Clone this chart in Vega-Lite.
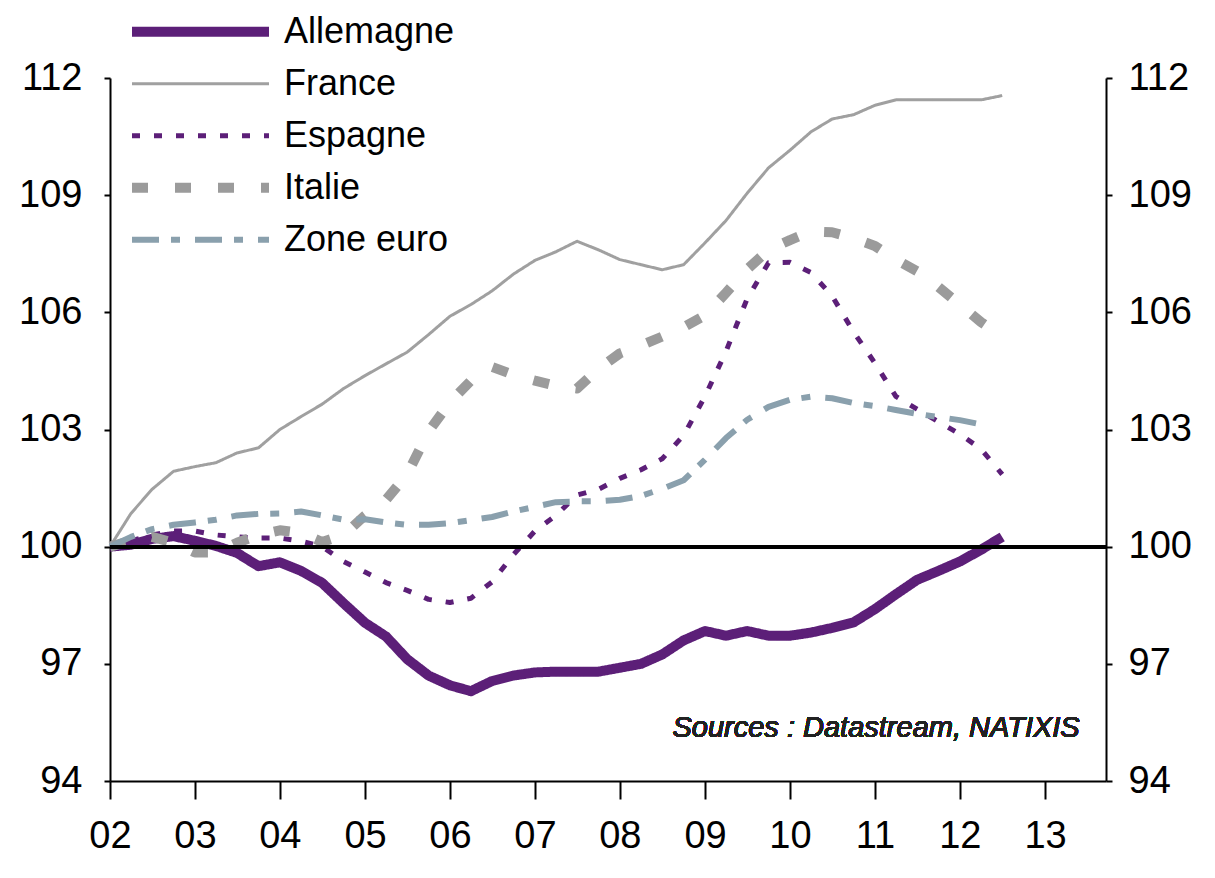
{
  "$schema": "https://vega.github.io/schema/vega-lite/v6.json",
  "width": 996,
  "height": 703,
  "autosize": {"type": "none"},
  "padding": {"left": 110, "top": 78, "right": 109, "bottom": 97},
  "background": "white",
  "config": {
    "view": {"stroke": null},
    "font": "Liberation Sans",
    "axis": {
      "grid": false,
      "domainColor": "#000",
      "domainWidth": 2,
      "tickColor": "#000",
      "tickWidth": 2,
      "labelColor": "#000",
      "labelFont": "Liberation Sans",
      "labelFontSize": 38,
      "title": null
    }
  },
  "data": {
    "values": [
      {"date": "2002-01-01", "Allemagne": 100.0, "France": 100.0, "Espagne": 100.0, "Italie": 100.0, "Zone euro": 100.0},
      {"date": "2002-04-01", "Allemagne": 100.05, "France": 100.85, "Espagne": 100.15, "Italie": 100.15, "Zone euro": 100.25},
      {"date": "2002-07-01", "Allemagne": 100.2, "France": 101.47, "Espagne": 100.3, "Italie": 100.25, "Zone euro": 100.45},
      {"date": "2002-10-01", "Allemagne": 100.27, "France": 101.93, "Espagne": 100.4, "Italie": 100.1, "Zone euro": 100.56},
      {"date": "2003-01-01", "Allemagne": 100.15, "France": 102.05, "Espagne": 100.4, "Italie": 99.85, "Zone euro": 100.62},
      {"date": "2003-04-01", "Allemagne": 100.02, "France": 102.15, "Espagne": 100.3, "Italie": 99.85, "Zone euro": 100.69},
      {"date": "2003-07-01", "Allemagne": 99.84, "France": 102.4, "Espagne": 100.25, "Italie": 100.1, "Zone euro": 100.8},
      {"date": "2003-10-01", "Allemagne": 99.5, "France": 102.53, "Espagne": 100.22, "Italie": 100.3, "Zone euro": 100.84},
      {"date": "2004-01-01", "Allemagne": 99.6, "France": 103.0, "Espagne": 100.22, "Italie": 100.42, "Zone euro": 100.85},
      {"date": "2004-04-01", "Allemagne": 99.38, "France": 103.33, "Espagne": 100.14, "Italie": 100.35, "Zone euro": 100.9},
      {"date": "2004-07-01", "Allemagne": 99.07, "France": 103.65, "Espagne": 100.0, "Italie": 100.12, "Zone euro": 100.8},
      {"date": "2004-10-01", "Allemagne": 98.55, "France": 104.05, "Espagne": 99.62, "Italie": 100.3, "Zone euro": 100.69},
      {"date": "2005-01-01", "Allemagne": 98.05, "France": 104.38, "Espagne": 99.35, "Italie": 100.8, "Zone euro": 100.7},
      {"date": "2005-04-01", "Allemagne": 97.7, "France": 104.68, "Espagne": 99.08, "Italie": 101.2, "Zone euro": 100.62},
      {"date": "2005-07-01", "Allemagne": 97.12, "France": 104.98, "Espagne": 98.88, "Italie": 101.85, "Zone euro": 100.56},
      {"date": "2005-10-01", "Allemagne": 96.7, "France": 105.43, "Espagne": 98.65, "Italie": 102.95, "Zone euro": 100.56},
      {"date": "2006-01-01", "Allemagne": 96.45, "France": 105.9, "Espagne": 98.57, "Italie": 103.7, "Zone euro": 100.6},
      {"date": "2006-04-01", "Allemagne": 96.3, "France": 106.2, "Espagne": 98.68, "Italie": 104.25, "Zone euro": 100.68},
      {"date": "2006-07-01", "Allemagne": 96.56, "France": 106.55, "Espagne": 99.1, "Italie": 104.6, "Zone euro": 100.76},
      {"date": "2006-10-01", "Allemagne": 96.7, "France": 106.98, "Espagne": 99.8, "Italie": 104.4, "Zone euro": 100.9},
      {"date": "2007-01-01", "Allemagne": 96.78, "France": 107.33, "Espagne": 100.4, "Italie": 104.25, "Zone euro": 101.02},
      {"date": "2007-04-01", "Allemagne": 96.8, "France": 107.55, "Espagne": 100.8, "Italie": 104.12, "Zone euro": 101.14},
      {"date": "2007-07-01", "Allemagne": 96.8, "France": 107.82, "Espagne": 101.32, "Italie": 104.05, "Zone euro": 101.16},
      {"date": "2007-10-01", "Allemagne": 96.8, "France": 107.6, "Espagne": 101.47, "Italie": 104.55, "Zone euro": 101.16},
      {"date": "2008-01-01", "Allemagne": 96.9, "France": 107.35, "Espagne": 101.75, "Italie": 104.95, "Zone euro": 101.2},
      {"date": "2008-04-01", "Allemagne": 97.0, "France": 107.22, "Espagne": 101.97, "Italie": 105.15, "Zone euro": 101.3},
      {"date": "2008-07-01", "Allemagne": 97.24, "France": 107.09, "Espagne": 102.25, "Italie": 105.38, "Zone euro": 101.48},
      {"date": "2008-10-01", "Allemagne": 97.6, "France": 107.22, "Espagne": 102.85, "Italie": 105.62, "Zone euro": 101.7},
      {"date": "2009-01-01", "Allemagne": 97.84, "France": 107.78, "Espagne": 103.85, "Italie": 105.92, "Zone euro": 102.23},
      {"date": "2009-04-01", "Allemagne": 97.72, "France": 108.35, "Espagne": 105.0, "Italie": 106.5, "Zone euro": 102.78},
      {"date": "2009-07-01", "Allemagne": 97.84, "France": 109.05, "Espagne": 106.35, "Italie": 107.1, "Zone euro": 103.25},
      {"date": "2009-10-01", "Allemagne": 97.72, "France": 109.7, "Espagne": 107.27, "Italie": 107.6, "Zone euro": 103.58},
      {"date": "2010-01-01", "Allemagne": 97.72, "France": 110.15, "Espagne": 107.28, "Italie": 107.85, "Zone euro": 103.76},
      {"date": "2010-04-01", "Allemagne": 97.8, "France": 110.62, "Espagne": 107.02, "Italie": 108.07, "Zone euro": 103.84},
      {"date": "2010-07-01", "Allemagne": 97.92, "France": 110.95, "Espagne": 106.42, "Italie": 108.05, "Zone euro": 103.8},
      {"date": "2010-10-01", "Allemagne": 98.06, "France": 111.06, "Espagne": 105.5, "Italie": 107.9, "Zone euro": 103.68},
      {"date": "2011-01-01", "Allemagne": 98.4, "France": 111.3, "Espagne": 104.7, "Italie": 107.7, "Zone euro": 103.6},
      {"date": "2011-04-01", "Allemagne": 98.78, "France": 111.44, "Espagne": 103.85, "Italie": 107.35, "Zone euro": 103.5},
      {"date": "2011-07-01", "Allemagne": 99.15, "France": 111.44, "Espagne": 103.52, "Italie": 107.05, "Zone euro": 103.4},
      {"date": "2011-10-01", "Allemagne": 99.38, "France": 111.44, "Espagne": 103.2, "Italie": 106.65, "Zone euro": 103.32},
      {"date": "2012-01-01", "Allemagne": 99.62, "France": 111.44, "Espagne": 102.88, "Italie": 106.2, "Zone euro": 103.24},
      {"date": "2012-04-01", "Allemagne": 99.92, "France": 111.44, "Espagne": 102.5, "Italie": 105.75, "Zone euro": 103.13},
      {"date": "2012-07-01", "Allemagne": 100.25, "France": 111.55, "Espagne": 101.85, "Italie": 105.38, "Zone euro": null}
    ]
  },
  "resolve": {"axis": {"y": "independent"}},
  "layer": [
    {
      "transform": [
        {"fold": ["Allemagne", "France", "Espagne", "Italie", "Zone euro"], "as": ["series", "value"]}
      ],
      "mark": {"type": "line", "strokeCap": "butt", "strokeJoin": "round"},
      "encoding": {
        "x": {
          "field": "date",
          "type": "temporal",
          "scale": {"type": "utc", "domain": [{"year": 2002, "month": 1, "date": 1, "utc": true}, {"year": 2013, "month": 9, "date": 20, "utc": true}], "nice": false},
          "axis": {
            "orient": "bottom",
            "format": "%y",
            "tickCount": {"interval": "year", "step": 1},
            "tickSize": 18,
            "labelPadding": 18,
            "labelDx": 12,
            "labelFlush": false,
            "labelOverlap": false
          }
        },
        "y": {
          "field": "value",
          "type": "quantitative",
          "scale": {"domain": [94, 112], "nice": false, "zero": false},
          "axis": {"orient": "left", "values": [94, 97, 100, 103, 106, 109, 112], "tickSize": 6, "labelPadding": 22}
        },
        "color": {
          "field": "series",
          "type": "nominal",
          "scale": {
            "domain": ["Allemagne", "France", "Espagne", "Italie", "Zone euro"],
            "range": ["#5c1f78", "#a0a0a0", "#5c1f78", "#9b9b9b", "#8aa0ad"]
          },
          "legend": {
            "title": null,
            "orient": "none",
            "legendX": 17,
            "legendY": -72,
            "padding": 0,
            "symbolType": "stroke",
            "symbolSize": 18769,
            "clipHeight": 51.5,
            "rowPadding": 0,
            "labelFont": "Liberation Sans",
            "labelFontSize": 36,
            "labelColor": "#000",
            "labelOffset": 10,
            "labelLimit": 0
          }
        },
        "strokeDash": {
          "field": "series",
          "type": "nominal",
          "scale": {
            "domain": ["Allemagne", "France", "Espagne", "Italie", "Zone euro"],
            "range": [[1, 0], [1, 0], [8, 14], [16, 27], [27, 12, 9, 15]]
          }
        },
        "strokeWidth": {
          "field": "series",
          "type": "nominal",
          "scale": {
            "type": "ordinal",
            "domain": ["Allemagne", "France", "Espagne", "Italie", "Zone euro"],
            "range": [10, 3, 5, 10, 6]
          }
        }
      }
    },
    {
      "mark": {"type": "rule", "color": "#000", "strokeWidth": 3},
      "encoding": {
        "y": {
          "datum": 100,
          "type": "quantitative",
          "scale": {"domain": [94, 112], "nice": false, "zero": false},
          "axis": {"orient": "right", "values": [94, 97, 100, 103, 106, 109, 112], "tickSize": 6, "labelPadding": 16}
        }
      }
    },
    {
      "mark": {"type": "text", "align": "right", "baseline": "middle", "fontStyle": "italic", "fontSize": 29, "color": "#222", "font": "Liberation Sans"},
      "encoding": {
        "x": {"datum": {"year": 2013, "month": 5, "date": 30, "utc": true}, "type": "temporal"},
        "y": {"datum": 95.35, "type": "quantitative", "axis": null},
        "text": {"value": "Sources : Datastream, NATIXIS"}
      }
    }
  ]
}
